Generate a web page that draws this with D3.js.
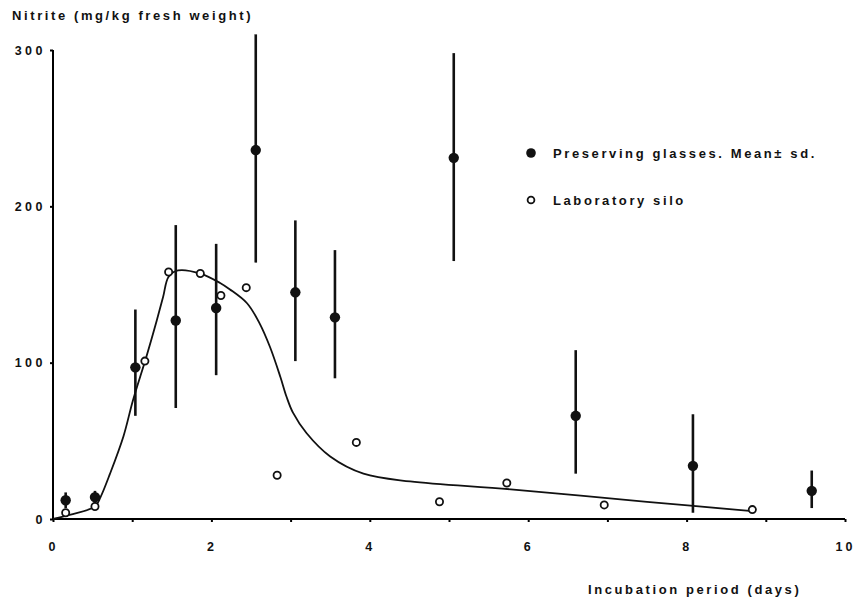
<!DOCTYPE html>
<html>
<head>
<meta charset="utf-8">
<script src="https://cdn.jsdelivr.net/npm/d3@7"></script>
<style>
  body { margin: 0; background: #fff; }
  svg { display: block; }
  text { font-family: "Liberation Sans", Arial, sans-serif; font-weight: bold; fill: #111; }
</style>
</head>
<body>
<div id="chart"></div>
<script>
// Preserving glasses: mean and +/- sd range
const glassDays = [0.16, 0.53, 1.04, 1.55, 2.06, 2.56, 3.06, 3.56, 5.06, 6.6, 8.08, 9.58];
const glassMean = [12, 14, 97, 127, 135, 236, 145, 129, 231, 66, 34, 18];
const glassLow  = [7, 10, 66, 71, 92, 164, 101, 90, 165, 29, 4, 7];
const glassHigh = [17, 18, 134, 188, 176, 310, 191, 172, 298, 108, 67, 31];

// Laboratory silo
const siloDays = [0.16, 0.53, 1.16, 1.46, 1.86, 2.12, 2.44, 2.83, 3.83, 4.88, 5.73, 6.96, 8.83];
const siloVals = [4, 8, 101, 158, 157, 143, 148, 28, 49, 11, 23, 9, 6];

// fitted curve drawn by hand in the original
const curveDays = [0, 0.16, 0.53, 0.6, 0.72, 0.89, 1.01, 1.18, 1.31, 1.39, 1.46, 1.58, 1.86, 2.11, 2.23, 2.45, 2.61, 2.74, 2.87, 2.95, 3.03, 3.2, 3.5, 3.92, 4.51, 5.78, 7.5, 8.83];
const curveVals = [0, 2, 8, 14, 29, 53, 76, 104, 127, 142, 155, 159, 157, 151, 147, 138, 125, 110, 91, 78, 68, 55, 40, 29, 24, 19, 11, 5];

const yTicks = [0, 100, 200, 300];
const xTicks = [0, 1, 2, 3, 4, 5, 6, 7, 8, 9, 10];
const xLabels = [0, 2, 4, 6, 8, 10];

const width = 856, height = 600;
const margin = {top: 50, right: 11, bottom: 81, left: 53};

const svg = d3.select('#chart').append('svg')
    .attr('width', width)
    .attr('height', height);

const x = d3.scaleLinear().domain([0, 10]).range([margin.left, width - margin.right]);
const y = d3.scaleLinear().domain([0, 300]).range([height - margin.bottom, margin.top]);

// axes
const yAxis = svg.append('g')
    .attr('transform', `translate(${margin.left},0)`)
    .call(d3.axisLeft(y).tickValues(yTicks).tickSize(3).tickPadding(4));
yAxis.select('.domain').attr('d', `M0,${y(0)}V${y(300)}`).attr('stroke-width', 2);
yAxis.selectAll('.tick line').attr('stroke-width', 2);
yAxis.selectAll('.tick text')
    .style('font-size', '12.5px')
    .style('letter-spacing', '3.5px');

const xAxis = svg.append('g')
    .attr('transform', `translate(0,${y(0)})`)
    .call(d3.axisBottom(x).tickValues(xTicks).tickSize(3).tickPadding(20)
      .tickFormat(d => xLabels.includes(d) ? d : ''));
xAxis.select('.domain').attr('d', `M${x(0)},0H${x(10)}`).attr('stroke-width', 2);
xAxis.selectAll('.tick line').attr('stroke-width', 2);
xAxis.selectAll('.tick text')
    .style('font-size', '12.5px')
    .style('letter-spacing', '3px');

// axis titles
svg.append('text')
    .attr('x', 12).attr('y', 20)
    .style('font-size', '13px')
    .style('letter-spacing', '2.6px')
    .text('Nitrite (mg/kg fresh weight)');

svg.append('text')
    .attr('x', 588).attr('y', 594)
    .style('font-size', '13px')
    .style('letter-spacing', '2.6px')
    .text('Incubation period (days)');

// fitted curve
const line = d3.line()
    .x((d, i) => x(curveDays[i]))
    .y(d => y(d))
    .curve(d3.curveCatmullRom.alpha(0.5));

svg.append('path')
    .datum(curveVals)
    .attr('d', line)
    .attr('fill', 'none')
    .attr('stroke', '#111')
    .attr('stroke-width', 1.8);

// error bars
svg.append('g').selectAll('line')
    .data(glassDays)
  .join('line')
    .attr('x1', d => x(d)).attr('x2', d => x(d))
    .attr('y1', (d, i) => y(glassLow[i]))
    .attr('y2', (d, i) => y(glassHigh[i]))
    .attr('stroke', '#111')
    .attr('stroke-width', 2.6);

svg.append('g').selectAll('circle')
    .data(glassDays)
  .join('circle')
    .attr('cx', d => x(d))
    .attr('cy', (d, i) => y(glassMean[i]))
    .attr('r', 5.2)
    .attr('fill', '#111');

svg.append('g').selectAll('circle')
    .data(siloDays)
  .join('circle')
    .attr('cx', d => x(d))
    .attr('cy', (d, i) => y(siloVals[i]))
    .attr('r', 3.6)
    .attr('fill', '#fff')
    .attr('stroke', '#111')
    .attr('stroke-width', 1.8);

// legend
const legend = svg.append('g').attr('transform', 'translate(531,153)');
legend.append('circle').attr('r', 4.8).attr('fill', '#111');
legend.append('text')
    .attr('x', 22).attr('y', 0).attr('dy', '0.35em')
    .style('font-size', '13px')
    .style('letter-spacing', '2.6px')
    .text('Preserving glasses. Mean± sd.');
legend.append('circle').attr('cy', 47).attr('r', 3.4)
    .attr('fill', '#fff').attr('stroke', '#111').attr('stroke-width', 1.8);
legend.append('text')
    .attr('x', 22).attr('y', 47).attr('dy', '0.35em')
    .style('font-size', '13px')
    .style('letter-spacing', '2.6px')
    .text('Laboratory silo');
</script>
</body>
</html>
